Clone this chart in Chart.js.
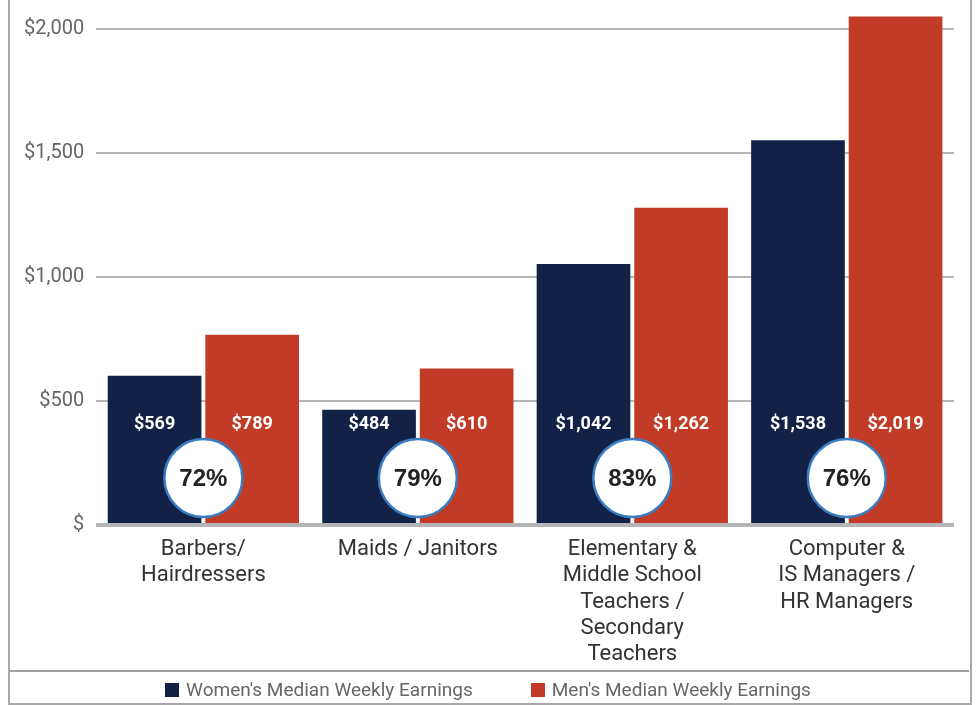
<!DOCTYPE html>
<html>
<head>
<meta charset="utf-8">
<script src="https://cdn.jsdelivr.net/npm/chart.js@4.4.1/dist/chart.umd.min.js"></script>
<style>
  html, body { margin: 0; padding: 0; background: #fff; }
  #wrap { position: relative; width: 976px; height: 705px; overflow: hidden; }
  #frame { position: absolute; left: 8px; top: -10px; width: 960px; height: 711px;
           border: 2px solid #a9a9a9; }
  #sep { position: absolute; left: 9px; top: 670px; width: 960px; height: 2px; background: #a0a0a0; }
  #legend { position: absolute; left: 0; top: 678px; width: 976px; height: 22px;
            display: flex; justify-content: center; align-items: center; gap: 58px;
            font: 19px Roboto, sans-serif; color: #666; }
  #legend span.box { display: inline-block; width: 14px; height: 14px; margin-right: 7px; vertical-align: -1px; }
  canvas { position: absolute; left: 0; top: 0; }
</style>
</head>
<body>
<div id="wrap">
  <div id="frame"></div>
  <canvas id="chart" width="976" height="705"></canvas>
  <div id="sep"></div>
  <div id="legend"></div>
</div>
<script>
// categories (multi-line tick labels)
const categories = [
  ["Barbers/", "Hairdressers"],
  ["Maids / Janitors"],
  ["Elementary &", "Middle School", "Teachers /", "Secondary", "Teachers"],
  ["Computer &", "IS Managers /", "HR Managers"]
];

// bar heights as drawn in the picture
const womenBars = [602, 465, 1052, 1551];
const menBars = [767, 631, 1279, 2050];

// printed labels
const womenLabels = ["$569", "$484", "$1,042", "$1,538"];
const menLabels = ["$789", "$610", "$1,262", "$2,019"];
const ratioLabels = ["72%", "79%", "83%", "76%"];

const yTicks = [0, 500, 1000, 1500, 2000];

const NAVY = "#112246";
const RED = "#c13b27";

// value labels + ratio circles
const labelPlugin = {
  id: "labels",
  afterDatasetsDraw(chart) {
    const ctx = chart.ctx;
    const y0 = chart.scales.y.getPixelForValue(0);
    const texts = [womenLabels, menLabels];
    ctx.save();
    ctx.textAlign = "center";
    ctx.textBaseline = "middle";
    ctx.fillStyle = "#fff";
    ctx.font = "bold 18px Roboto, sans-serif";
    [0, 1].forEach(d => {
      chart.getDatasetMeta(d).data.forEach((bar, i) => {
        ctx.fillText(texts[d][i], bar.x, y0 - 101);
      });
    });
    ratioLabels.forEach((r, i) => {
      const cx = chart.scales.x.getPixelForValue(i);
      const cy = y0 - 47;
      ctx.beginPath();
      ctx.arc(cx, cy, 39, 0, Math.PI * 2);
      ctx.fillStyle = "#fff";
      ctx.fill();
      ctx.lineWidth = 2.5;
      ctx.strokeStyle = "#3a7dc3";
      ctx.stroke();
      ctx.fillStyle = "#222";
      ctx.font = "bold 24px 'Liberation Sans', Arial, sans-serif";
      ctx.fillText(r, cx, cy + 1);
    });
    ctx.restore();
  }
};

const chart = new Chart(document.getElementById("chart"), {
  type: "bar",
  data: {
    labels: categories,
    datasets: [
      { label: "Women's Median Weekly Earnings", data: womenBars, backgroundColor: NAVY },
      { label: "Men's Median Weekly Earnings", data: menBars, backgroundColor: RED }
    ]
  },
  options: {
    responsive: false,
    devicePixelRatio: 1,
    animation: false,
    layout: { padding: { top: 0, right: 22, bottom: 34, left: 12 } },
    datasets: { bar: { categoryPercentage: 0.91, barPercentage: 0.96, clip: false } },
    plugins: {
      legend: { display: false },
      tooltip: { enabled: false }
    },
    scales: {
      x: {
        grid: { display: false },
        border: { display: false },
        ticks: {
          color: "#333",
          padding: 3,
          font: { family: "Roboto", size: 22, lineHeight: 1.2 },
          maxRotation: 0,
          autoSkip: false
        }
      },
      y: {
        min: 0,
        max: 2020,
        afterBuildTicks: s => { s.ticks = yTicks.map(v => ({ value: v })); },
        border: { display: false },
        grid: {
          color: "#b5b5b7",
          lineWidth: c => (c.tick && c.tick.value === 0 ? 4 : 2),
          drawTicks: false
        },
        ticks: {
          color: "#666",
          padding: 12,
          font: { family: "Roboto", size: 20 },
          callback: v => (v === 0 ? "$" : "$" + v.toLocaleString("en-US"))
        }
      }
    }
  },
  plugins: [labelPlugin]
});

// html legend from the datasets
const legendEl = document.getElementById("legend");
chart.data.datasets.forEach(ds => {
  const item = document.createElement("div");
  item.innerHTML = '<span class="box" style="background:' + ds.backgroundColor + '"></span>' + ds.label;
  legendEl.appendChild(item);
});
</script>
</body>
</html>
